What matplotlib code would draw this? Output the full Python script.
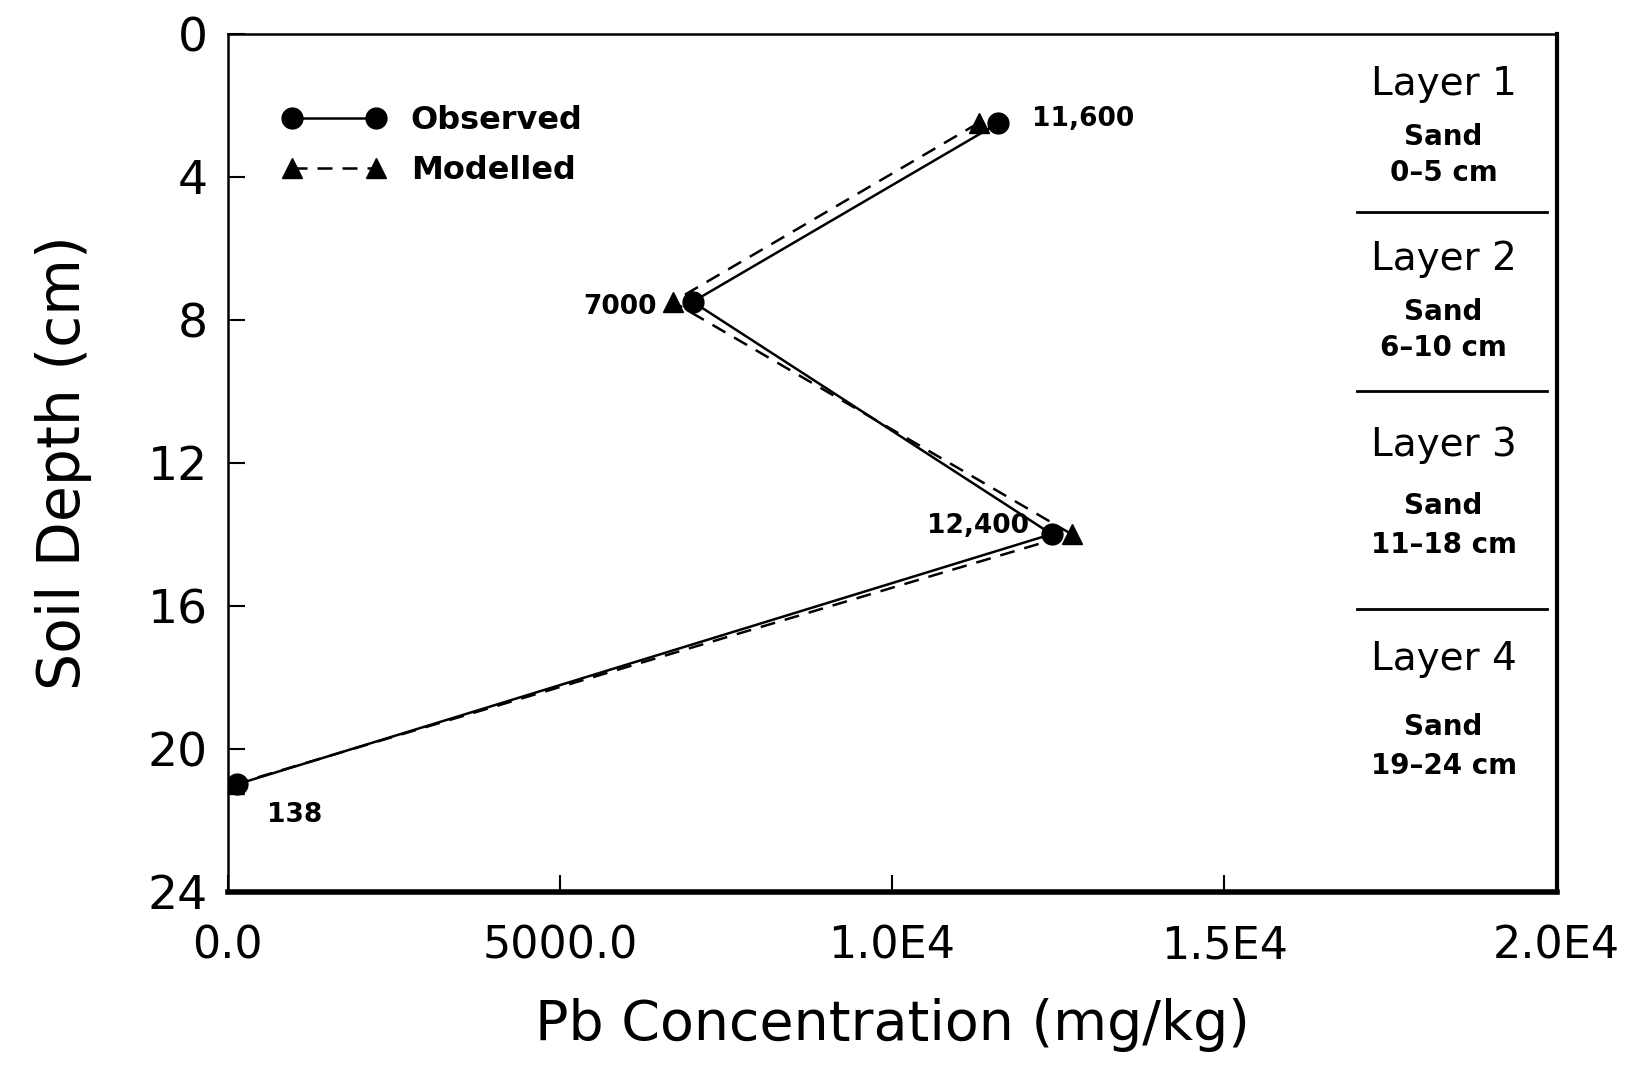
import matplotlib.pyplot as plt

# depth profile of Pb (mg/kg)
obs_conc = [11600, 7000, 12400, 138]
obs_depth = [2.5, 7.5, 14.0, 21.0]
mod_conc = [11300, 6700, 12700, 100]
mod_depth = [2.5, 7.5, 14.0, 21.0]
point_labels = ["11,600", "7000", "12,400", "138"]

layer_names = ["Layer 1", "Layer 2", "Layer 3", "Layer 4"]
layer_soil = ["Sand", "Sand", "Sand", "Sand"]
layer_ranges = ["0\u20135 cm", "6\u201310 cm", "11\u201318 cm", "19\u201324 cm"]
layer_name_depth = [1.4, 6.3, 11.5, 17.5]
layer_soil_depth = [2.9, 7.8, 13.2, 19.4]
layer_range_depth = [3.9, 8.8, 14.3, 20.5]
layer_bounds = [5.0, 10.0, 16.1]

xticks = [0, 5000, 10000, 15000, 20000]
xtick_labels = ["0.0", "5000.0", "1.0E4", "1.5E4", "2.0E4"]
yticks = [0, 4, 8, 12, 16, 20, 24]

fig = plt.figure(figsize=(16.49, 10.86), dpi=100)
ax = fig.add_axes([0.138, 0.179, 0.806, 0.79])

ax.plot(obs_conc, obs_depth, "-", color="black", lw=1.8, marker="o",
        markersize=15, label="Observed")
ax.plot(mod_conc, mod_depth, "--", color="black", lw=1.8, marker="^",
        markersize=14, dashes=(6, 4), label="Modelled")

# point annotations
offsets = [(24, 3), (-26, -4), (-16, 6), (22, -22)]
aligns = ["left", "right", "right", "left"]
for c, d, t, off, ha in zip(obs_conc, obs_depth, point_labels, offsets, aligns):
    ax.annotate(t, (c, d), xytext=off, textcoords="offset points",
                ha=ha, va="center", fontsize=19, fontweight="bold")

# layer panel
x_text = 18300
for i in range(4):
    ax.text(x_text, layer_name_depth[i], layer_names[i], ha="center", va="center", fontsize=28)
    ax.text(x_text, layer_soil_depth[i], layer_soil[i], ha="center", va="center",
            fontsize=20, fontweight="bold")
    ax.text(x_text, layer_range_depth[i], layer_ranges[i], ha="center", va="center",
            fontsize=20, fontweight="bold")
for b in layer_bounds:
    ax.plot([17000, 19850], [b, b], color="black", lw=2)

ax.set_xlim(0, 20000)
ax.set_ylim(24, 0)
ax.set_xticks(xticks)
ax.set_xticklabels(xtick_labels, fontsize=32)
ax.set_yticks(yticks)
ax.set_yticklabels([str(v) for v in yticks], fontsize=34)
ax.tick_params(direction="in", length=12, width=1.5, pad=14)
ax.tick_params(axis="x", pad=24)

ax.spines["bottom"].set_linewidth(4)
ax.spines["right"].set_linewidth(3)
ax.spines["top"].set_linewidth(1.8)
ax.spines["left"].set_linewidth(1.8)

ax.set_xlabel("Pb Concentration (mg/kg)", fontsize=40, labelpad=22)
ax.set_ylabel("Soil Depth (cm)", fontsize=42, labelpad=40)

leg = ax.legend(loc="upper left", numpoints=2, frameon=False, handlelength=3.2,
                bbox_to_anchor=(0.02, 0.95), prop={"size": 23, "weight": "bold"},
                labelspacing=0.6)

fig.savefig("out.png", dpi=100)
